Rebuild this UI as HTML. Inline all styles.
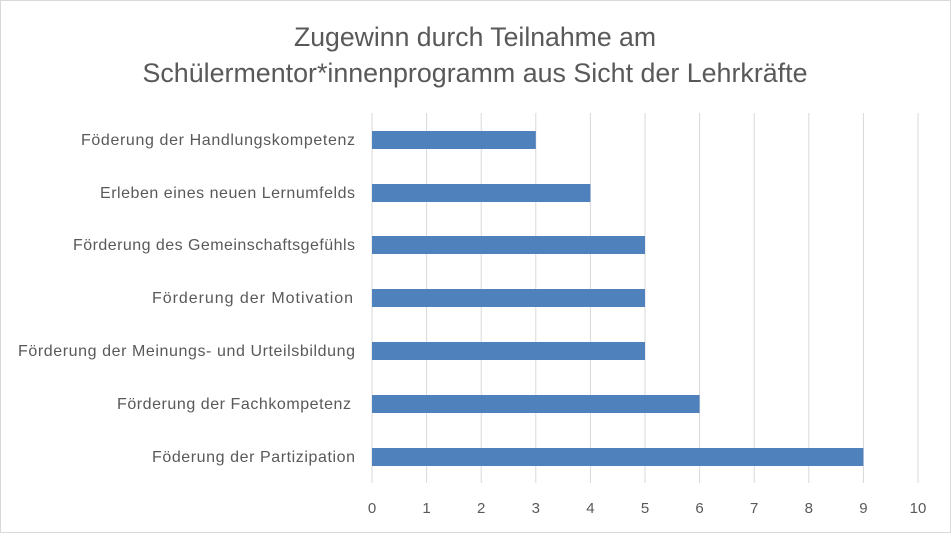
<!DOCTYPE html>
<html><head><meta charset="utf-8"><style>
body{margin:0;background:#fff}
</style></head><body>
<svg width="951" height="533" xmlns="http://www.w3.org/2000/svg" font-family="Liberation Sans, sans-serif">
<rect x="0.5" y="0.5" width="950" height="532" fill="#fff" stroke="#d9d9d9"/>
<text x="475" y="46" text-anchor="middle" font-size="26.5" fill="#595959" textLength="362" lengthAdjust="spacingAndGlyphs">Zugewinn durch Teilnahme am</text>
<text x="475" y="82" text-anchor="middle" font-size="26.5" fill="#595959" textLength="665" lengthAdjust="spacingAndGlyphs">Schülermentor*innenprogramm  aus Sicht der Lehrkräfte</text>
<g stroke="#d9d9d9" stroke-width="1">
<line x1="426.6" y1="113" x2="426.6" y2="483"/>
<line x1="481.2" y1="113" x2="481.2" y2="483"/>
<line x1="535.8" y1="113" x2="535.8" y2="483"/>
<line x1="590.4" y1="113" x2="590.4" y2="483"/>
<line x1="645" y1="113" x2="645" y2="483"/>
<line x1="699.6" y1="113" x2="699.6" y2="483"/>
<line x1="754.2" y1="113" x2="754.2" y2="483"/>
<line x1="808.8" y1="113" x2="808.8" y2="483"/>
<line x1="863.4" y1="113" x2="863.4" y2="483"/>
<line x1="918" y1="113" x2="918" y2="483"/>
<line x1="372" y1="113" x2="372" y2="483"/>
</g>
<g fill="#4f81bd">
<rect x="372" y="131" width="163.8" height="18"/>
<rect x="372" y="184" width="218.4" height="18"/>
<rect x="372" y="236" width="273" height="18"/>
<rect x="372" y="289" width="273" height="18"/>
<rect x="372" y="342" width="273" height="18"/>
<rect x="372" y="395" width="327.6" height="18"/>
<rect x="372" y="448" width="491.4" height="18"/>
</g>
<g font-size="16" fill="#595959" text-anchor="end" lengthAdjust="spacingAndGlyphs">
<text x="355" y="145" textLength="274">Föderung der Handlungskompetenz</text>
<text x="355" y="198" textLength="255">Erleben eines neuen Lernumfelds</text>
<text x="355" y="250" textLength="282">Förderung des Gemeinschaftsgefühls</text>
<text x="353" y="303" textLength="201">Förderung der Motivation</text>
<text x="355" y="356" textLength="337">Förderung der Meinungs- und Urteilsbildung</text>
<text x="351" y="409" textLength="234">Förderung der Fachkompetenz</text>
<text x="355" y="462" textLength="203">Föderung der Partizipation</text>
</g>
<g font-size="15" fill="#595959" text-anchor="middle">
<text x="372" y="513">0</text><text x="426.6" y="513">1</text><text x="481.2" y="513">2</text>
<text x="535.8" y="513">3</text><text x="590.4" y="513">4</text><text x="645" y="513">5</text>
<text x="699.6" y="513">6</text><text x="754.2" y="513">7</text><text x="808.8" y="513">8</text>
<text x="863.4" y="513">9</text><text x="918" y="513">10</text>
</g>
</svg>
</body></html>
